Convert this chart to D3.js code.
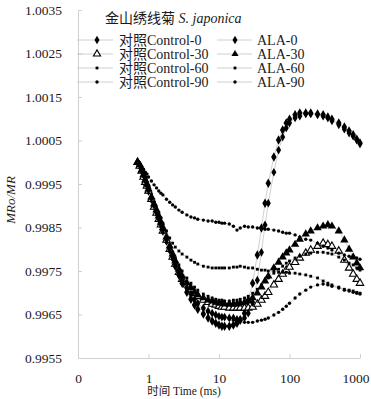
<!DOCTYPE html>
<html><head><meta charset="utf-8">
<script src="https://cdn.jsdelivr.net/npm/d3@7"></script>
<style>
body{margin:0;background:#fff}
svg{display:block}
text{font-family:"Liberation Serif","Times New Roman","Noto Sans CJK SC",serif;fill:#1a1a1a}
</style></head>
<body><svg id="chart" width="371" height="399"></svg>
<script>
// ---- data ----
const times = [
  0.7,0.75,0.8,0.85,0.9,0.95,1,1.1,1.2,1.3,
  1.4,1.5,1.6,1.8,2,2.2,2.4,2.7,3,3.5,
  4,4.5,5,6,7,8,9,10,11,12,
  14,16,18,20,23,26,30,35,40,45,
  50,60,70,80,90,100,120,140,170,200,
  250,300,350,400,500,600,700,800,900,1000];

const control0 = [
  1.00000,0.99991,0.99980,0.99968,0.99957,0.99945,0.99934,0.99915,0.99899,0.99883,
  0.99869,0.99856,0.99842,0.99819,0.99798,0.99780,0.99761,0.99741,0.99722,0.99701,
  0.99685,0.99672,0.99662,0.99651,0.99642,0.99635,0.99630,0.99626,0.99623,0.99623,
  0.99623,0.99626,0.99630,0.99637,0.99653,0.99683,0.99722,0.99787,0.99849,0.99906,
  0.99952,1.00012,1.00051,1.00074,1.00090,1.00099,1.00109,1.00113,1.00113,1.00113,
  1.00111,1.00109,1.00104,1.00099,1.00090,1.00081,1.00072,1.00063,1.00053,1.00044];

const control30 = [
  1.00000,0.99991,0.99980,0.99966,0.99954,0.99945,0.99934,0.99915,0.99897,0.99883,
  0.99869,0.99856,0.99842,0.99821,0.99800,0.99782,0.99766,0.99747,0.99731,0.99718,
  0.99708,0.99699,0.99692,0.99683,0.99678,0.99674,0.99672,0.99669,0.99667,0.99667,
  0.99665,0.99665,0.99665,0.99665,0.99665,0.99665,0.99667,0.99674,0.99683,0.99692,
  0.99701,0.99718,0.99731,0.99743,0.99752,0.99759,0.99770,0.99780,0.99791,0.99798,
  0.99807,0.99814,0.99811,0.99807,0.99796,0.99775,0.99757,0.99743,0.99731,0.99722];

const control60 = [
  1.00000,0.99994,0.99982,0.99971,0.99959,0.99950,0.99941,0.99925,0.99908,0.99895,
  0.99883,0.99872,0.99860,0.99842,0.99826,0.99814,0.99805,0.99796,0.99789,0.99782,
  0.99775,0.99770,0.99766,0.99761,0.99759,0.99757,0.99757,0.99757,0.99757,0.99757,
  0.99757,0.99759,0.99759,0.99761,0.99759,0.99757,0.99757,0.99754,0.99752,0.99752,
  0.99750,0.99750,0.99747,0.99747,0.99747,0.99745,0.99745,0.99743,0.99741,0.99738,
  0.99734,0.99727,0.99722,0.99718,0.99713,0.99708,0.99706,0.99704,0.99701,0.99699];

const control90 = [
  1.00000,0.99998,0.99991,0.99984,0.99977,0.99973,0.99966,0.99957,0.99948,0.99941,
  0.99934,0.99929,0.99925,0.99915,0.99908,0.99902,0.99897,0.99890,0.99885,0.99879,
  0.99874,0.99872,0.99869,0.99867,0.99865,0.99865,0.99862,0.99862,0.99860,0.99860,
  0.99858,0.99853,0.99844,0.99849,0.99853,0.99851,0.99851,0.99849,0.99849,0.99846,
  0.99846,0.99844,0.99842,0.99839,0.99837,0.99837,0.99833,0.99828,0.99823,0.99821,
  0.99814,0.99807,0.99803,0.99798,0.99791,0.99787,0.99784,0.99782,0.99780,0.99777];

const ala0 = [
  1.00000,0.99994,0.99982,0.99971,0.99959,0.99948,0.99936,0.99918,0.99902,0.99885,
  0.99872,0.99858,0.99844,0.99821,0.99800,0.99782,0.99764,0.99745,0.99729,0.99711,
  0.99697,0.99685,0.99676,0.99665,0.99658,0.99653,0.99649,0.99646,0.99644,0.99644,
  0.99642,0.99642,0.99639,0.99639,0.99642,0.99653,0.99678,0.99729,0.99793,0.99856,
  0.99906,0.99977,1.00028,1.00058,1.00079,1.00090,1.00102,1.00106,1.00111,1.00111,
  1.00109,1.00106,1.00102,1.00095,1.00086,1.00076,1.00067,1.00060,1.00051,1.00042];

const ala30 = [
  1.00000,0.99994,0.99982,0.99971,0.99959,0.99950,0.99938,0.99920,0.99904,0.99890,
  0.99876,0.99862,0.99849,0.99828,0.99807,0.99789,0.99773,0.99754,0.99738,0.99722,
  0.99711,0.99701,0.99695,0.99688,0.99683,0.99681,0.99678,0.99676,0.99676,0.99674,
  0.99674,0.99674,0.99674,0.99676,0.99678,0.99681,0.99688,0.99699,0.99713,0.99727,
  0.99738,0.99757,0.99770,0.99782,0.99791,0.99798,0.99811,0.99823,0.99835,0.99842,
  0.99849,0.99853,0.99856,0.99853,0.99842,0.99821,0.99800,0.99782,0.99768,0.99757];

const ala60 = [
  1.00000,0.99994,0.99980,0.99968,0.99957,0.99945,0.99936,0.99918,0.99902,0.99888,
  0.99874,0.99860,0.99849,0.99828,0.99810,0.99793,0.99780,0.99764,0.99750,0.99734,
  0.99722,0.99713,0.99706,0.99697,0.99692,0.99688,0.99685,0.99683,0.99683,0.99681,
  0.99681,0.99683,0.99683,0.99685,0.99688,0.99692,0.99699,0.99708,0.99718,0.99727,
  0.99734,0.99745,0.99754,0.99761,0.99768,0.99773,0.99780,0.99784,0.99789,0.99791,
  0.99793,0.99793,0.99791,0.99789,0.99782,0.99775,0.99768,0.99764,0.99757,0.99752];

const ala90 = [
  1.00000,0.99991,0.99980,0.99968,0.99957,0.99945,0.99934,0.99915,0.99897,0.99881,
  0.99867,0.99853,0.99839,0.99816,0.99796,0.99777,0.99759,0.99738,0.99722,0.99704,
  0.99690,0.99681,0.99672,0.99662,0.99655,0.99651,0.99649,0.99646,0.99644,0.99642,
  0.99639,0.99637,0.99635,0.99635,0.99632,0.99632,0.99632,0.99635,0.99637,0.99639,
  0.99642,0.99649,0.99655,0.99662,0.99669,0.99676,0.99688,0.99697,0.99706,0.99713,
  0.99718,0.99720,0.99718,0.99715,0.99711,0.99706,0.99704,0.99701,0.99699,0.99697];

const seriesNames = ["对照Control-0","对照Control-30","对照Control-60","对照Control-90",
                     "ALA-0","ALA-30","ALA-60","ALA-90"];
const seriesValues = [control0, control30, control60, control90, ala0, ala30, ala60, ala90];

const xTicks = [0.1, 1, 10, 100, 1000];
const xTickLabels = ["0", "1", "10", "100", "1000"];
const yTicks = [0.9955, 0.9965, 0.9975, 0.9985, 0.9995, 1.0005, 1.0015, 1.0025, 1.0035];

const legendTitle = "金山绣线菊";
const legendSpecies = "S. japonica";
const xTitle = "时间 Time (ms)";

// ---- styles (separate from data) ----
const styles = [
  {type: d3.symbolDiamond,  size: 26, fill: "#000", stroke: "none"},
  {type: d3.symbolTriangle, size: 24, fill: "#fff", stroke: "#000"},
  {type: d3.symbolSquare,   size: 8,  fill: "#000", stroke: "none"},
  {type: d3.symbolCircle,   size: 9,  fill: "#000", stroke: "none"},
  {type: d3.symbolDiamond,  size: 22, fill: "#000", stroke: "none"},
  {type: d3.symbolTriangle, size: 30, fill: "#000", stroke: "none"},
  {type: d3.symbolSquare,   size: 8,  fill: "#000", stroke: "none"},
  {type: d3.symbolCircle,   size: 9,  fill: "#000", stroke: "none"}
];

const svg = d3.select("#chart");
const x = d3.scaleLog().domain([0.1, 1000]).range([78, 360]);
const y = d3.scaleLinear().domain([0.9955, 1.0035]).range([358, 10]);
const axisColor = "#d0d0d0";

// axes
const xAxis = svg.append("g").attr("transform", "translate(0,358)")
  .call(d3.axisBottom(x).tickValues(xTicks)
    .tickFormat((d, i) => xTickLabels[i]).tickSizeInner(-4).tickSizeOuter(0).tickPadding(15));
const yAxis = svg.append("g").attr("transform", "translate(78,0)")
  .call(d3.axisLeft(y).tickValues(yTicks).tickFormat(d3.format(".4f"))
    .tickSizeInner(-4).tickSizeOuter(0).tickPadding(16));
[xAxis, yAxis].forEach(g => {
  g.select(".domain").attr("stroke", axisColor);
  g.selectAll(".tick line").attr("stroke", axisColor);
  g.selectAll(".tick text").style("font-size", "13.5px").attr("fill", "#1a1a1a");
  g.attr("font-family", null);
});
// last x label sits left of its tick, inside the picture
xAxis.selectAll(".tick text").filter(d => d === 1000).attr("text-anchor", "end").attr("x", 9);

// axis titles
svg.append("text").attr("x", 184).attr("y", 395).attr("text-anchor", "middle")
  .style("font-size", "11.5px").text(xTitle);
const yt = svg.append("text").attr("transform", "translate(15,200) rotate(-90)")
  .attr("text-anchor", "middle").style("font-size", "13px").style("font-style", "italic");
yt.append("tspan").text("MRo/MR");

// series lines then markers
const line = d3.line().x((d, i) => x(times[i])).y(d => y(d));
const gLines = svg.append("g");
seriesValues.forEach(vals => {
  gLines.append("path").attr("d", line(vals)).attr("fill", "none")
    .attr("stroke", "#c4c4c4").attr("stroke-width", 0.8);
});
const gPts = svg.append("g");
seriesValues.forEach((vals, s) => {
  const st = styles[s];
  const sym = d3.symbol().type(st.type).size(st.size)();
  gPts.append("g").selectAll("path").data(vals).join("path")
    .attr("transform", (d, i) => `translate(${x(times[i])},${y(d)})`)
    .attr("d", sym).attr("fill", st.fill)
    .attr("stroke", st.stroke).attr("stroke-width", st.stroke === "none" ? 0 : 1.1);
});

// legend
const lt = svg.append("text").attr("x", 105).attr("y", 23).style("font-size", "14px");
lt.append("tspan").text(legendTitle + " ");
lt.append("tspan").style("font-style", "italic").text(legendSpecies);

const legCols = [{x0: 77, x1: 113, m: 97, tx: 119}, {x0: 217, x1: 252, m: 235, tx: 257}];
const rowY = [40, 54, 68, 82];
seriesNames.forEach((name, s) => {
  const col = legCols[Math.floor(s / 4)];
  const ry = rowY[s % 4];
  const st = styles[s];
  svg.append("line").attr("x1", col.x0).attr("x2", col.x1).attr("y1", ry).attr("y2", ry)
    .attr("stroke", "#c4c4c4").attr("stroke-width", 0.8);
  svg.append("path").attr("transform", `translate(${col.m},${ry})`)
    .attr("d", d3.symbol().type(st.type).size(Math.min(st.size, 22))())
    .attr("fill", st.fill).attr("stroke", st.stroke)
    .attr("stroke-width", st.stroke === "none" ? 0 : 1.1);
  svg.append("text").attr("x", col.tx).attr("y", ry + 5).style("font-size", "14px").text(name);
});
</script></body></html>
